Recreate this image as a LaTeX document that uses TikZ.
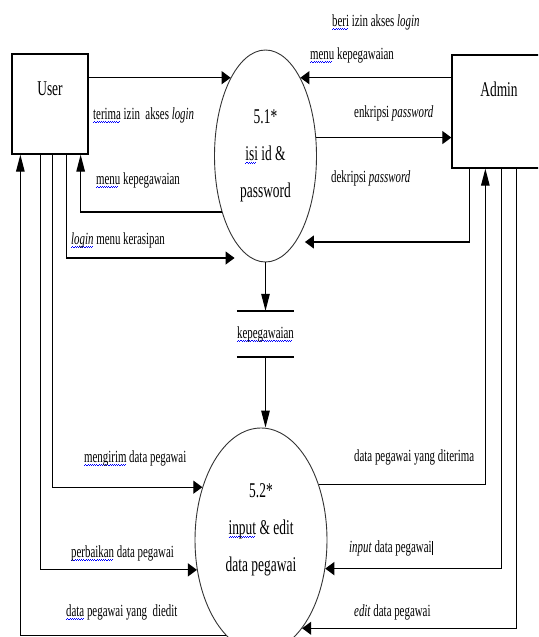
\documentclass[tikz,border=0pt]{standalone}
\usepackage{fontspec}
\setmainfont{Liberation Serif}[FakeStretch=0.64]
\usetikzlibrary{shapes.geometric,arrows.meta}

% blue wavy underline under a word
\newsavebox\sqbox
\newcommand\sq[1]{\sbox\sqbox{#1}\rlap{\textcolor{blue}{\hbox to \wd\sqbox{%
    \leaders\hbox{\rule[-3.4pt]{1.1pt}{0.7pt}\rule[-2.5pt]{1.1pt}{0.7pt}}\hfill}}}\usebox\sqbox}

\begin{document}
\begin{tikzpicture}[x=1pt,y=-1pt,
    entity/.style={draw,line width=1.3pt,inner sep=0pt},
    proc/.style={draw=black!80,ellipse,line width=0.9pt,inner sep=0pt,align=center,
        font=\fontsize{21}{37}\selectfont},
    ename/.style={inner sep=0pt,font=\fontsize{21}{25}\selectfont},
    lbl/.style={anchor=west,inner sep=1pt,font=\fontsize{17}{20}\selectfont},
    flow/.style={line width=1.2pt},
    hflow/.style={flow,-{Triangle[length=9pt,width=13pt]}},
    vflow/.style={flow,-{Triangle[length=17pt,width=8.5pt]}}]
\clip (0,0) rectangle (538,637);

    % External entities
    \node[entity,minimum width=76pt,minimum height=100pt] (user) at (50,104) {};
    \node[ename] (userl) at ([yshift=-35pt]user.north) {User};
    \node[entity,minimum width=94pt,minimum height=113pt] (admin) at (499,111.5) {};
    \node[ename] (adminl) at ([yshift=-35pt]admin.north) {Admin};

    % Processes
    \node[proc,minimum width=102pt,minimum height=212pt] (p1) at (265.5,156)
        {5.1*\\\sq{isi} id \&\\password};
    \node[proc,minimum width=132pt,minimum height=224pt,text depth=25pt] (p2) at (261,540)
        {5.2*\\\sq{input} \& edit\\data pegawai};

    % Data store
    \node[inner sep=0pt,minimum width=57pt,minimum height=46pt,font=\fontsize{17}{20}\selectfont]
        (kep) at (265.5,334) {\sq{kepegawaian}};
    \draw[line width=1.8pt] (kep.north west) -- (kep.north east);
    \draw[line width=1.8pt] (kep.south west) -- (kep.south east);

    % User <-> 5.1
    \draw[hflow] (user.east |- p1.114) -- (p1.114);
    \draw[vflow] (p1.232) -| ([xshift=-8pt]user.south east);
    \draw[hflow] ([xshift=-22pt]user.south east) |- (p1.250 |- 0,258);
    \node[lbl] (l1) at (92,115) {\sq{terima} izin\ \ akses \textit{login}};
    \node[lbl] (l2) at (95,180) {\sq{menu} kepegawaian};
    \node[lbl] (l3) at (70,240) {\sq{\textit{login}} menu kerasipan};

    % Admin <-> 5.1
    \draw[hflow] (admin.west |- p1.66) -- (p1.66);
    \draw[hflow] (p1.20) -- (admin.west |- p1.20);
    \draw[hflow] ([xshift=18pt]admin.south west) |- (p1.300 |- 0,242);
    \node[lbl] (l4) at (331,22) {\sq{beri} izin akses \textit{login}};
    \node[lbl] (l5) at (309,55) {\sq{menu} kepegawaian};
    \node[lbl] (l6) at (353,113) {enkripsi \textit{password}};
    \node[lbl] (l7) at (330,178) {dekripsi \textit{password}};

    % 5.1 -> store -> 5.2
    \draw[vflow] (p1.south) -- (kep.north);
    \draw[vflow] (kep.south) -- (kep.south |- p2.north);

    % User <-> 5.2
    \draw[hflow] ([xshift=41pt]user.south west) |- (p2.138);
    \draw[hflow] ([xshift=29pt]user.south west) |- (p2.205);
    \draw[vflow] (p2.250) -| ([xshift=9pt]user.south west);
    \node[lbl] (l8) at (83,458) {\sq{mengirim} data pegawai};
    \node[lbl] (l9) at (70,553) {\sq{perbaikan} data pegawai};
    \node[lbl] (l10) at (65,612) {\sq{data} pegawai yang\ \ diedit};

    % Admin <-> 5.2
    \draw[vflow] (p2.44) -| ([xshift=34pt]admin.south west);
    \draw[hflow] ([xshift=50pt]admin.south west) |- (p2.336);
    \draw[hflow] ([xshift=65pt]admin.south west) |- (p2.295);
    \node[lbl] (l11) at (353,457) {data pegawai yang diterima};
    \node[lbl] (l12) at (348,548) {\textit{input} data pegawai\rule[-3pt]{0.6pt}{14pt}};
    \node[lbl] (l13) at (353,612) {\textit{edit} data pegawai};
\end{tikzpicture}
\end{document}
